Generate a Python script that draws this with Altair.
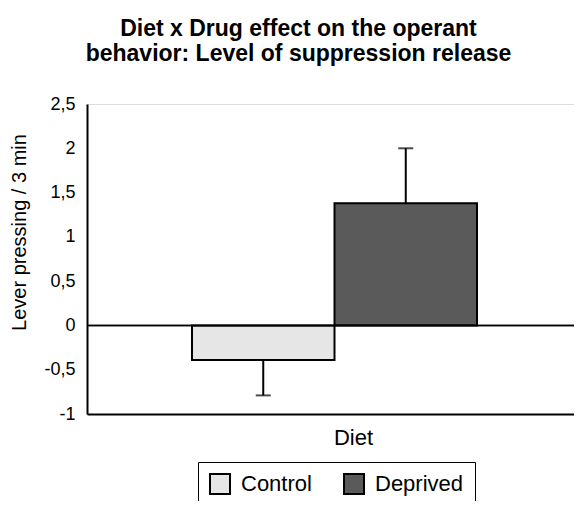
import altair as alt
import pandas as pd

groups = ["Control", "Deprived"]
means = [-0.39, 1.38]
sems = [0.40, 0.62]
diet = ["Diet", "Diet"]
colors = ["#e6e6e6", "#5a5a5a"]
y_ticks = [-1, -0.5, 0, 0.5, 1, 1.5, 2, 2.5]

df = pd.DataFrame({
    "Diet": diet,
    "Group": groups,
    "Mean": means,
    "End": [m - s if m < 0 else m + s for m, s in zip(means, sems)],
})

FONT = "Liberation Sans"

x_enc = alt.X("Diet:N", title="Diet",
              scale=alt.Scale(paddingInner=0, paddingOuter=0.3684),
              axis=alt.Axis(labels=False, ticks=False, domain=True, domainColor="black",
                            domainWidth=2, titleFontSize=22, titleFont=FONT,
                            titleFontWeight="normal", titleColor="black",
                            titleX=266, titleY=30, titleBaseline="alphabetic"))
xoff = alt.XOffset("Group:N", scale=alt.Scale(paddingInner=0, paddingOuter=0))
y_scale = alt.Scale(domain=[-1, 2.5], nice=False, zero=False)

base = alt.Chart(df)

bars = base.mark_bar(stroke="black", strokeWidth=2).encode(
    x=x_enc,
    xOffset=xoff,
    y=alt.Y("Mean:Q", scale=y_scale, title="Lever pressing / 3 min",
            axis=alt.Axis(values=y_ticks, labelExpr="replace(toString(datum.value), '.', ',')",
                          ticks=False, grid=False, domainColor="black", domainWidth=2,
                          labelFontSize=18, labelFont=FONT, labelColor="black",
                          labelPadding=12, titleFontSize=20, titleFont=FONT,
                          titleFontWeight="normal", titleColor="black",
                          titleX=-58, titleY=128)),
    y2=alt.datum(0),
    color=alt.Color("Group:N", scale=alt.Scale(domain=groups, range=colors),
                    legend=alt.Legend(title=None, orient="none", legendX=111, legendY=358,
                                      direction="horizontal", symbolType="square",
                                      symbolSize=400, symbolStrokeColor="black",
                                      symbolStrokeWidth=2, symbolOpacity=1,
                                      labelFontSize=22, labelFont=FONT, labelColor="black",
                                      labelOffset=10, columnPadding=28, padding=11,
                                      strokeColor="black")),
)

rules = base.mark_rule(color="black", strokeWidth=2).encode(
    x=alt.X("Diet:N"),
    xOffset=xoff,
    y=alt.Y("Mean:Q", scale=y_scale),
    y2="End:Q",
)

caps = base.mark_tick(color="black", thickness=2, size=15, orient="horizontal").encode(
    x=alt.X("Diet:N"),
    xOffset=xoff,
    y=alt.Y("End:Q", scale=y_scale),
)

zero = alt.Chart(df).mark_rule(color="black", strokeWidth=1.5).encode(y=alt.datum(0))

chart = alt.layer(bars, zero, rules, caps).properties(
    width=495,
    height=310,
    title=alt.TitleParams(
        ["Diet x Drug effect on the operant", "behavior: Level of suppression release"],
        font=FONT, fontSize=23, fontWeight="bold", color="black",
        anchor="middle", frame="group", dx=-36, lineHeight=25, offset=29,
    ),
    autosize=alt.AutoSizeParams(type="none"),
    padding={"left": 79, "top": 96, "right": -8, "bottom": 87},
).configure_view(stroke="black", strokeWidth=2).configure(background="white")

chart.save("out.html", embed_options={"renderer": "svg", "actions": False})
